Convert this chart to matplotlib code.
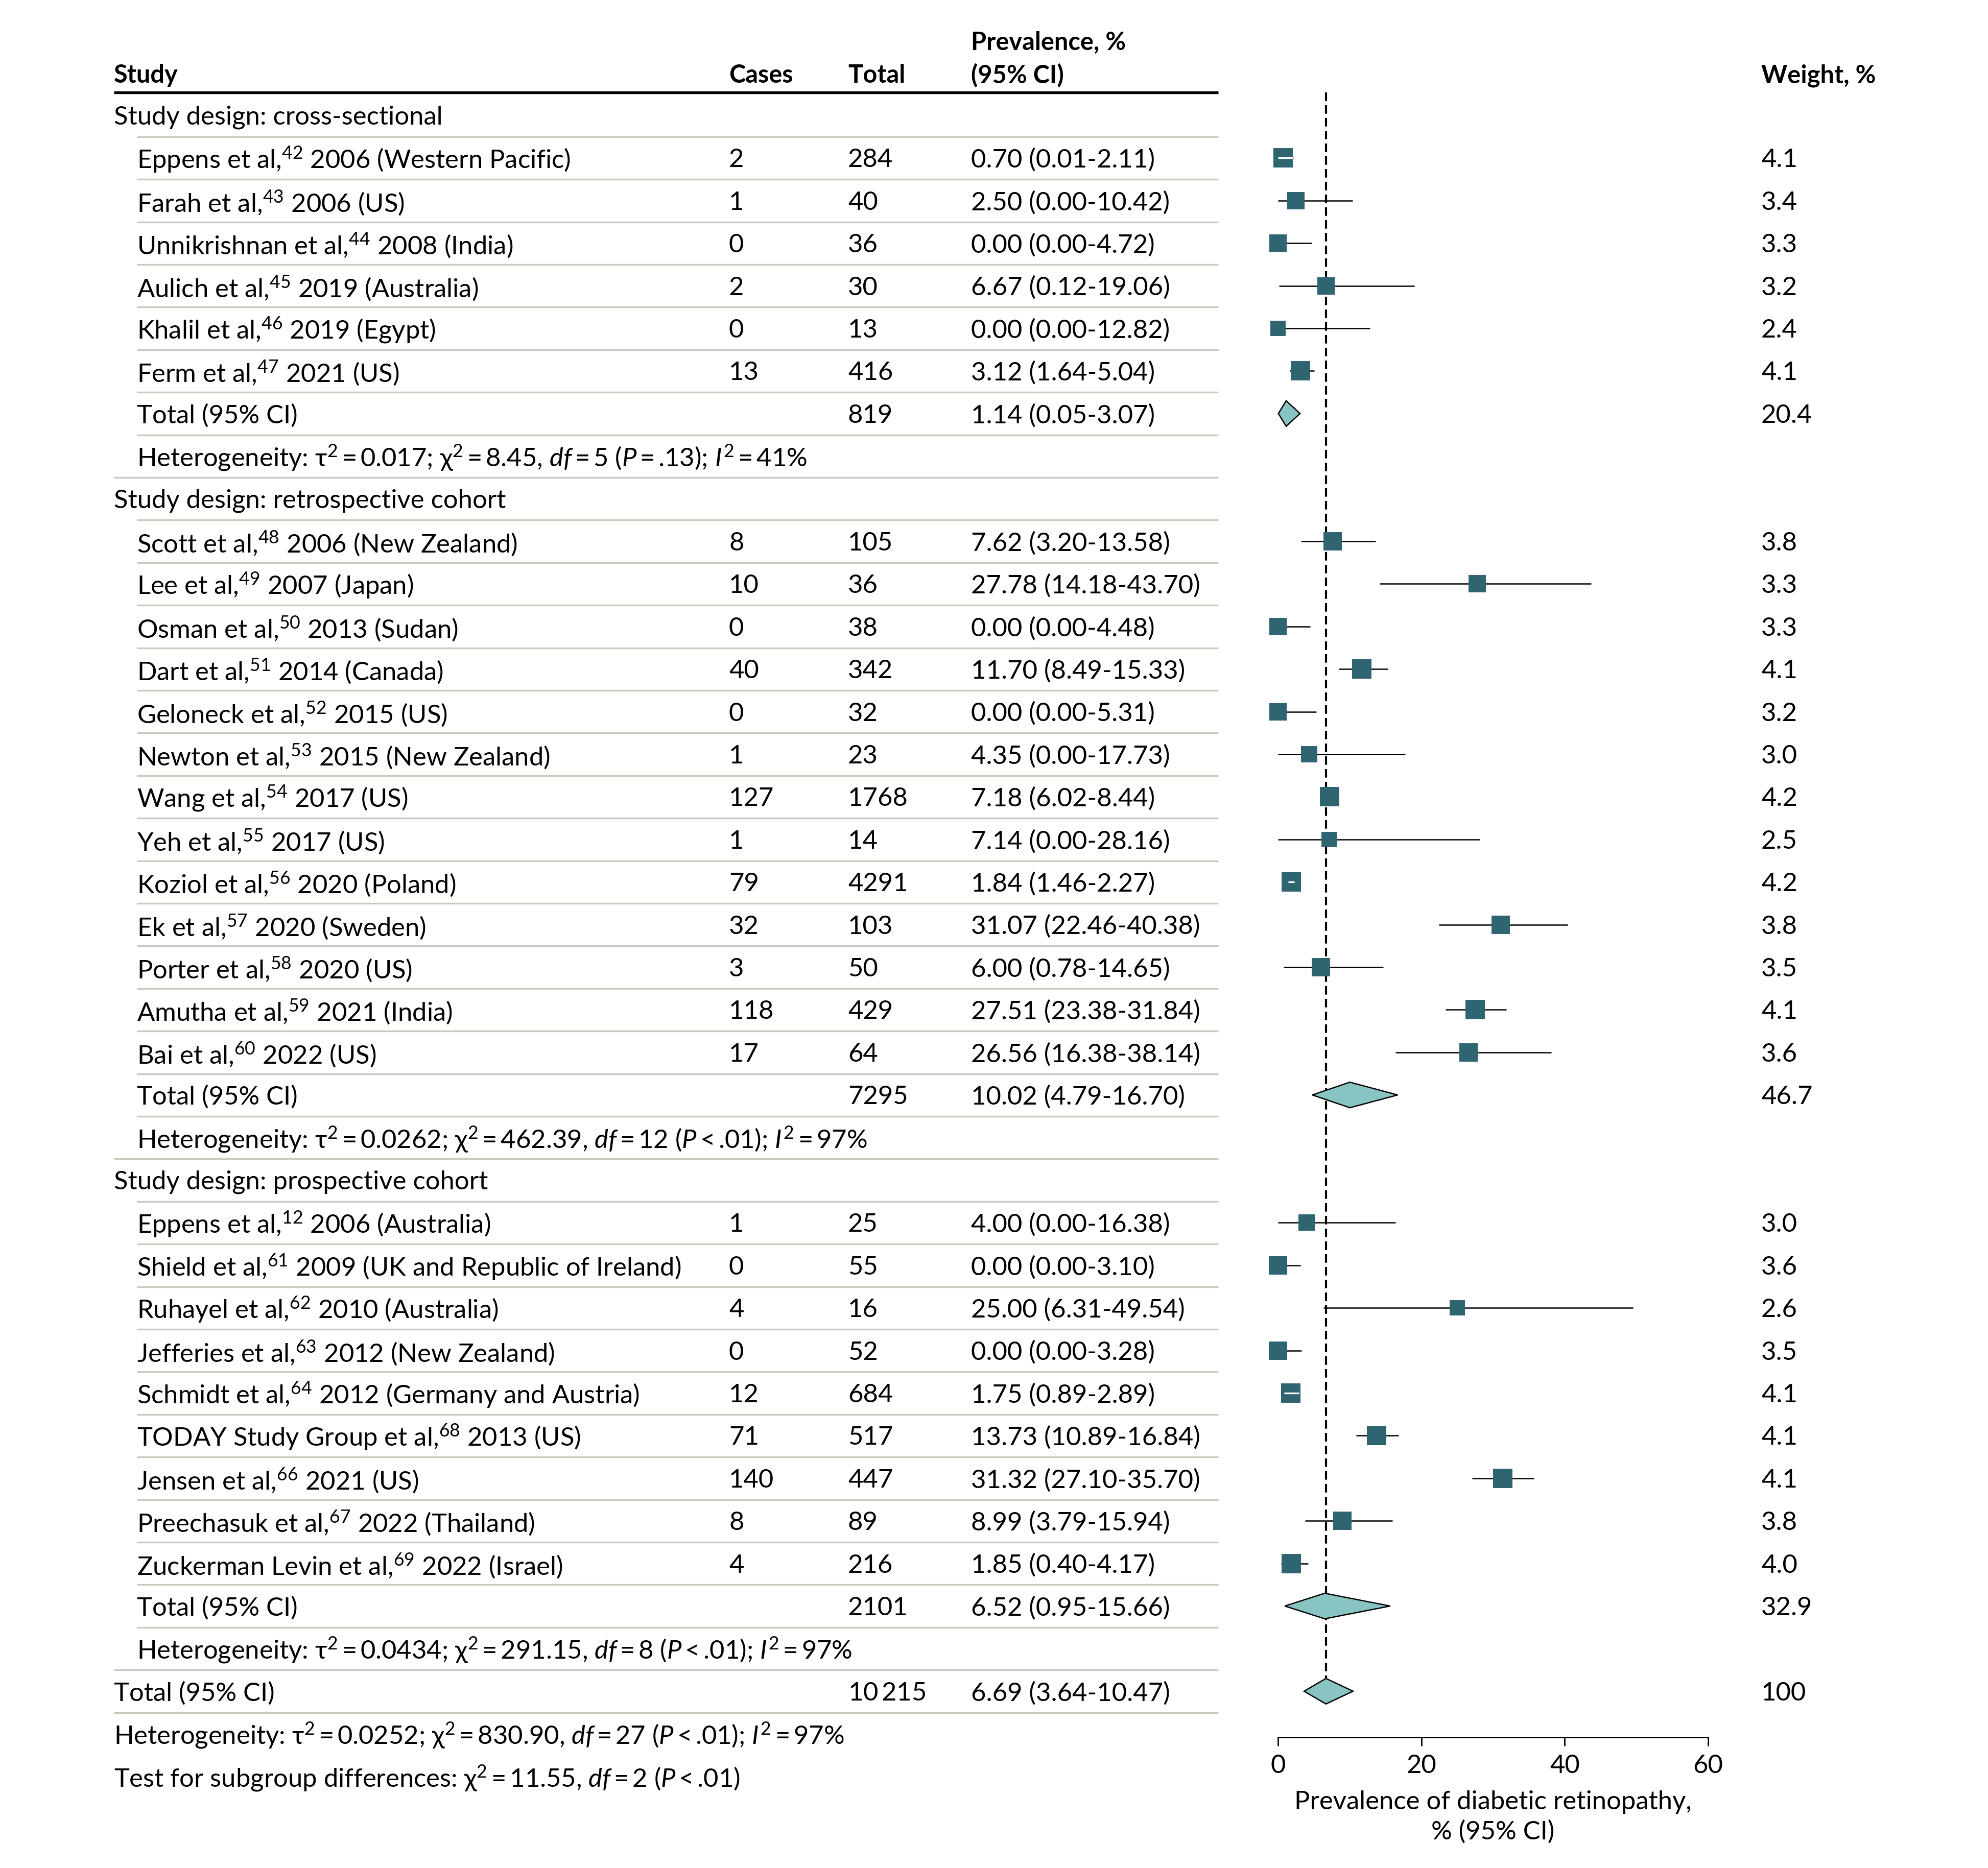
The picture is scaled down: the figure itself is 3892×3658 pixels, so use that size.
import matplotlib
matplotlib.use('Agg')
import matplotlib.pyplot as plt
from matplotlib.patches import Polygon
import numpy as np

FONT = 'Lato'
plt.rcParams['font.family'] = [FONT, 'DejaVu Sans']
plt.rcParams['mathtext.fontset'] = 'custom'
plt.rcParams['mathtext.rm'] = FONT
plt.rcParams['mathtext.it'] = FONT + ':italic'
plt.rcParams['mathtext.bf'] = FONT + ':bold'
plt.rcParams['mathtext.fallback'] = 'stixsans'

# ---------------- data ----------------
section_titles = ["Study design: cross-sectional",
                  "Study design: retrospective cohort",
                  "Study design: prospective cohort"]

cs_authors = ["Eppens et al,", "Farah et al,", "Unnikrishnan et al,", "Aulich et al,",
              "Khalil et al,", "Ferm et al,"]
cs_refs = ["42", "43", "44", "45", "46", "47"]
cs_years = ["2006 (Western Pacific)", "2006 (US)", "2008 (India)", "2019 (Australia)",
            "2019 (Egypt)", "2021 (US)"]
cs_cases = [2, 1, 0, 2, 0, 13]
cs_total = [284, 40, 36, 30, 13, 416]
cs_prev = [0.70, 2.50, 0.00, 6.67, 0.00, 3.12]
cs_lo = [0.01, 0.00, 0.00, 0.12, 0.00, 1.64]
cs_hi = [2.11, 10.42, 4.72, 19.06, 12.82, 5.04]
cs_weight = [4.1, 3.4, 3.3, 3.2, 2.4, 4.1]

rc_authors = ["Scott et al,", "Lee et al,", "Osman et al,", "Dart et al,", "Geloneck et al,",
              "Newton et al,", "Wang et al,", "Yeh et al,", "Koziol et al,", "Ek et al,",
              "Porter et al,", "Amutha et al,", "Bai et al,"]
rc_refs = ["48", "49", "50", "51", "52", "53", "54", "55", "56", "57", "58", "59", "60"]
rc_years = ["2006 (New Zealand)", "2007 (Japan)", "2013 (Sudan)", "2014 (Canada)",
            "2015 (US)", "2015 (New Zealand)", "2017 (US)", "2017 (US)", "2020 (Poland)",
            "2020 (Sweden)", "2020 (US)", "2021 (India)", "2022 (US)"]
rc_cases = [8, 10, 0, 40, 0, 1, 127, 1, 79, 32, 3, 118, 17]
rc_total = [105, 36, 38, 342, 32, 23, 1768, 14, 4291, 103, 50, 429, 64]
rc_prev = [7.62, 27.78, 0.00, 11.70, 0.00, 4.35, 7.18, 7.14, 1.84, 31.07, 6.00, 27.51, 26.56]
rc_lo = [3.20, 14.18, 0.00, 8.49, 0.00, 0.00, 6.02, 0.00, 1.46, 22.46, 0.78, 23.38, 16.38]
rc_hi = [13.58, 43.70, 4.48, 15.33, 5.31, 17.73, 8.44, 28.16, 2.27, 40.38, 14.65, 31.84, 38.14]
rc_weight = [3.8, 3.3, 3.3, 4.1, 3.2, 3.0, 4.2, 2.5, 4.2, 3.8, 3.5, 4.1, 3.6]

pc_authors = ["Eppens et al,", "Shield et al,", "Ruhayel et al,", "Jefferies et al,",
              "Schmidt et al,", "TODAY Study Group et al,", "Jensen et al,",
              "Preechasuk et al,", "Zuckerman Levin et al,"]
pc_refs = ["12", "61", "62", "63", "64", "68", "66", "67", "69"]
pc_years = ["2006 (Australia)", "2009 (UK and Republic of Ireland)", "2010 (Australia)",
            "2012 (New Zealand)", "2012 (Germany and Austria)", "2013 (US)", "2021 (US)",
            "2022 (Thailand)", "2022 (Israel)"]
pc_cases = [1, 0, 4, 0, 12, 71, 140, 8, 4]
pc_total = [25, 55, 16, 52, 684, 517, 447, 89, 216]
pc_prev = [4.00, 0.00, 25.00, 0.00, 1.75, 13.73, 31.32, 8.99, 1.85]
pc_lo = [0.00, 0.00, 6.31, 0.00, 0.89, 10.89, 27.10, 3.79, 0.40]
pc_hi = [16.38, 3.10, 49.54, 3.28, 2.89, 16.84, 35.70, 15.94, 4.17]
pc_weight = [3.0, 3.6, 2.6, 3.5, 4.1, 4.1, 4.1, 3.8, 4.0]

sub_total_n = [819, 7295, 2101]
sub_prev = [1.14, 10.02, 6.52]
sub_lo = [0.05, 4.79, 0.95]
sub_hi = [3.07, 16.70, 15.66]
sub_weight = [20.4, 46.7, 32.9]
sub_tau2 = ["0.017", "0.0262", "0.0434"]
sub_chi2 = ["8.45", "462.39", "291.15"]
sub_df = ["5", "12", "8"]
sub_p = [("=", ".13"), ("<", ".01"), ("<", ".01")]
sub_i2 = ["41", "97", "97"]

overall_n = "10$\\,$215"
overall_prev, overall_lo, overall_hi = 6.69, 3.64, 10.47
overall_weight = "100"
overall_tau2, overall_chi2, overall_df, overall_p, overall_i2 = "0.0252", "830.90", "27", ("<", ".01"), "97"
test_chi2, test_df, test_p = "11.55", "2", ("<", ".01")

x_ticks = [0, 20, 40, 60]
x_label = "Prevalence of diabetic retinopathy,\n% (95% CI)"

# ---------------- layout ----------------
W, H = 3892, 3658
DPI = 300
ROW0, ROWH = 226.0, 83.4          # pixel centre of row 0 and row pitch
TXT_OFF = 4.0 / ROWH              # small downward nudge for text


def r(px):
    return (px - ROW0) / ROWH

FS = 12.2
FSB = 11.7
X_STUDY, X_IND, X_CASES, X_TOTAL, X_PREV, X_WEIGHT = 223, 268, 1427, 1660, 1901, 3448
X_LINE_END = 2385
AX_L, AX_R, AX_T, AX_B = 2502, 3344, 181, 3402
PX_PER_UNIT = (AX_R - AX_L) / 60.0

SQ_COLOR = '#2e6570'
DIA_COLOR = '#88c4c2'
SEP_COLOR = '#c6cbbd'

fig = plt.figure(figsize=(W / DPI, H / DPI), dpi=DPI)
axt = fig.add_axes([0, 0, 1, 1])
axt.set_xlim(0, W)
axt.set_ylim(r(H), r(0))
axt.axis('off')

ax = fig.add_axes([AX_L / W, 1 - AX_B / H, (AX_R - AX_L) / W, (AX_B - AX_T) / H])
ax.set_xlim(0, 60)
ax.set_ylim(r(AX_B), r(AX_T))
ax.patch.set_alpha(0)
for s in ['top', 'right', 'left']:
    ax.spines[s].set_visible(False)
ax.spines['bottom'].set_linewidth(0.65)
ax.set_yticks([])
ax.set_xticks(x_ticks)
ax.set_xticklabels([str(t) for t in x_ticks])
ax.tick_params(axis='x', length=4, width=0.65, labelsize=FS, pad=4)
ax.set_xlabel(x_label, fontsize=FS, labelpad=6, linespacing=1.3)


def fmt_prev(p, lo, hi):
    return f"{p:.2f} ({lo:.2f}-{hi:.2f})"


def het_text(t2, c2, df, p, i2):
    return (r"Heterogeneity: $\mathrm{\tau}^{2}\,$=$\,$" + t2 + r"; $\mathrm{\chi}^{2}\,$=$\,$" + c2 +
            r", $\mathit{df}\,$=$\,$" + df + r" ($\mathit{P}\,$" + p[0] + r"$\,$" + p[1] +
            r"); $\mathit{I}^{2}\,$=$\,$" + i2 + "%")


def txt(x, row, s, fs=FS, **kw):
    axt.text(x, row + TXT_OFF, s, fontsize=fs, va='center', ha='left', **kw)

# header
txt(X_STUDY, r(144), "Study", fs=FSB, fontweight='bold')
txt(X_CASES, r(144), "Cases", fs=FSB, fontweight='bold')
txt(X_TOTAL, r(144), "Total", fs=FSB, fontweight='bold')
txt(X_PREV, r(79), "Prevalence, %", fs=FSB, fontweight='bold')
txt(X_PREV, r(144), "(95% CI)", fs=FSB, fontweight='bold')
txt(X_WEIGHT, r(144), "Weight, %", fs=FSB, fontweight='bold')
axt.hlines(r(AX_T), X_STUDY, X_LINE_END, color='black', lw=1.3)

groups = [
    (cs_authors, cs_refs, cs_years, cs_cases, cs_total, cs_prev, cs_lo, cs_hi, cs_weight),
    (rc_authors, rc_refs, rc_years, rc_cases, rc_total, rc_prev, rc_lo, rc_hi, rc_weight),
    (pc_authors, pc_refs, pc_years, pc_cases, pc_total, pc_prev, pc_lo, pc_hi, pc_weight),
]

kinds = []
row = 0
dia_h = 25.0 / ROWH
for g, (au, rf, yr, ca, tn, pv, lo, hi, wt) in enumerate(groups):
    txt(X_STUDY, row, section_titles[g])
    kinds.append('section')
    row += 1
    for k in range(len(au)):
        txt(X_IND, row, au[k] + r"$^{\mathrm{" + rf[k] + r"}}$ " + yr[k])
        txt(X_CASES, row, str(ca[k]))
        txt(X_TOTAL, row, str(tn[k]))
        txt(X_PREV, row, fmt_prev(pv[k], lo[k], hi[k]))
        txt(X_WEIGHT, row, f"{wt[k]:.1f}")
        side_px = 18.8 * np.sqrt(wt[k])
        side_u = side_px / PX_PER_UNIT
        ax.hlines(row, lo[k], hi[k], color='black', lw=0.6, zorder=2, clip_on=False)
        ax.scatter([pv[k]], [row], marker='s', s=(side_px * 72 / DPI) ** 2, color=SQ_COLOR,
                   linewidths=0, zorder=3, clip_on=False)
        if hi[k] - lo[k] < 0.8 * side_u:
            ax.hlines(row, max(lo[k], pv[k] - side_u / 2), min(hi[k], pv[k] + side_u / 2),
                      color='white', lw=0.8, zorder=4, clip_on=False)
        kinds.append('study')
        row += 1
    txt(X_IND, row, "Total (95% CI)")
    txt(X_TOTAL, row, str(sub_total_n[g]))
    txt(X_PREV, row, fmt_prev(sub_prev[g], sub_lo[g], sub_hi[g]))
    txt(X_WEIGHT, row, f"{sub_weight[g]:.1f}")
    ax.add_patch(Polygon([(sub_lo[g], row), (sub_prev[g], row - dia_h), (sub_hi[g], row),
                          (sub_prev[g], row + dia_h)], closed=True, facecolor=DIA_COLOR,
                         edgecolor='black', lw=0.6, zorder=3, clip_on=False))
    kinds.append('total')
    row += 1
    txt(X_IND, row, het_text(sub_tau2[g], sub_chi2[g], sub_df[g], sub_p[g], sub_i2[g]))
    kinds.append('het')
    row += 1

overall_row = row
txt(X_STUDY, row, "Total (95% CI)")
txt(X_TOTAL, row, overall_n)
txt(X_PREV, row, fmt_prev(overall_prev, overall_lo, overall_hi))
txt(X_WEIGHT, row, overall_weight)
ax.add_patch(Polygon([(overall_lo, row), (overall_prev, row - dia_h), (overall_hi, row),
                      (overall_prev, row + dia_h)], closed=True, facecolor=DIA_COLOR,
                     edgecolor='black', lw=0.6, zorder=3, clip_on=False))
kinds.append('ototal')
row += 1
txt(X_STUDY, row, het_text(overall_tau2, overall_chi2, overall_df, overall_p, overall_i2))
kinds.append('ohet')
row += 1
txt(X_STUDY, row, r"Test for subgroup differences: $\mathrm{\chi}^{2}\,$=$\,$" + test_chi2 +
    r", $\mathit{df}\,$=$\,$" + test_df + r" ($\mathit{P}\,$" + test_p[0] + r"$\,$" + test_p[1] + ")")
kinds.append('test')

# separators
for i in range(len(kinds) - 1):
    a, b = kinds[i], kinds[i + 1]
    if a == 'ohet':
        continue
    if b == 'section' or b == 'ototal' or a == 'ototal':
        x0 = X_STUDY
    else:
        x0 = X_IND
    axt.hlines(i + 0.5, x0, X_LINE_END, color=SEP_COLOR, lw=0.8)

# reference line
ax.vlines(overall_prev, r(AX_T), overall_row, color='black', lw=1.0,
          linestyles=(0, (4, 2)), zorder=1, clip_on=False)

fig.savefig('out.png', dpi=DPI)
